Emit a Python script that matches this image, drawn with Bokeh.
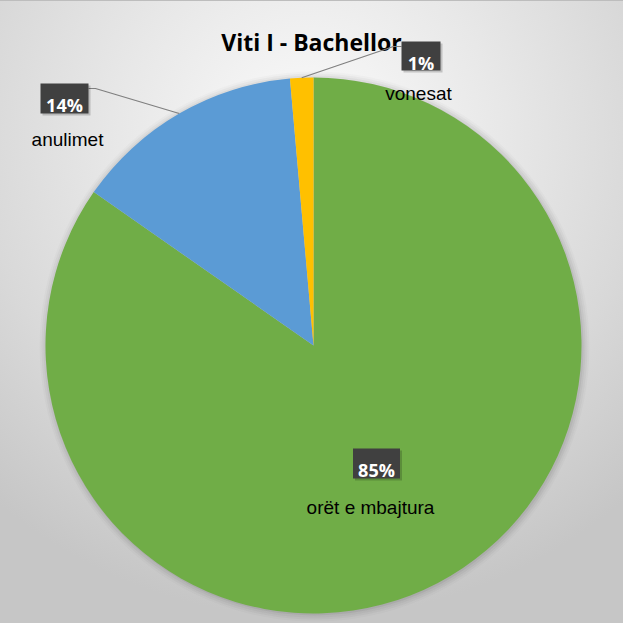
import numpy as np
from bokeh.plotting import figure
from bokeh.models import ColumnDataSource, Range1d
from bokeh.core.properties import value
from bokeh.embed import file_html
from bokeh.resources import INLINE

# ---- data ----
title_text = "Viti I - Bachellor"
categories = ["orët e mbajtura", "anulimet", "vonesat"]
values = [84.7, 13.9, 1.4]
pct_labels = ["85%", "14%", "1%"]
colors = ["#70AD47", "#5B9BD5", "#FFC000"]

# ---- geometry (1 data unit = 1 screen px, pie centre at 0,0) ----
R = 268
W, H = 628, 623
x0, y0 = -317, -279

frac = np.array(values) / sum(values)
ends = np.pi / 2 - 2 * np.pi * np.cumsum(frac)
starts = np.concatenate([[np.pi / 2], ends[:-1]])
mids = (starts + ends) / 2

p = figure(width=W, height=H, output_backend="svg", toolbar_location=None,
           x_range=Range1d(x0, x0 + W), y_range=Range1d(y0, y0 + H),
           min_border=0, outline_line_color=None)
p.axis.visible = False
p.grid.visible = False
p.background_fill_alpha = 0
p.border_fill_alpha = 0
p.styles = {
    "margin-left": "-5px",
    "background": "radial-gradient(circle at 50% 22%, #fbfbfb 0px, #e8e8e8 190px, #d9d9d9 330px, #c6c6c6 480px)",
    "border-left": "1px solid #bdbdbd",
    "border-top": "1px solid #bdbdbd",
}

# soft shadow around pie
for i, a in enumerate([0.05, 0.04, 0.03, 0.02]):
    p.circle(x=[1], y=[-1], radius=R + 1 + 2 * i, fill_color="black",
             fill_alpha=a, line_color=None)

src = ColumnDataSource(dict(start=starts, end=ends, color=colors, cat=categories))
p.wedge(x=0, y=0, radius=R, start_angle="start", end_angle="end",
        direction="clock", fill_color="color", line_color=None, source=src)

# title
p.text(x=[-2], y=[304], text=[title_text], text_font=value("Open Sans"),
       text_font_style="bold", text_font_size="23px", text_color="#000000",
       text_align="center", text_baseline="alphabetic")

# label layout (box centre, box size, pct baseline, category baseline)
layout = [
    dict(bx=63, by=-118, bw=47, bh=30, pb=-124, cx=57, cb=-162),
    dict(bx=-249, by=247, bw=48, bh=30, pb=241, cx=-246, cb=206),
    dict(bx=107.5, by=289.5, bw=39, bh=29, pb=283, cx=105, cb=252),
]

# leader lines for small slices
for i in (1, 2):
    L = layout[i]
    ax, ay = R * np.cos(mids[i]), R * np.sin(mids[i])
    if L["bx"] < 0:
        ex = L["bx"] + L["bw"] / 2
        elbow = ex + 7
    else:
        ex = L["bx"] - L["bw"] / 2
        elbow = ex - 8
    ey = L["by"] + L["bh"] / 2 - 5
    p.line(x=[ex, elbow, ax], y=[ey, ey, ay], line_color="#7f7f7f", line_width=1.2)

for i, L in enumerate(layout):
    # box shadow
    p.rect(x=L["bx"] + 2, y=L["by"] - 2, width=L["bw"], height=L["bh"],
           fill_color="black", fill_alpha=0.18, line_color=None)
    p.rect(x=L["bx"], y=L["by"], width=L["bw"], height=L["bh"],
           fill_color="#404040", line_color=None)
    p.text(x=[L["bx"]], y=[L["pb"]], text=[pct_labels[i]], text_font=value("Open Sans"),
           text_font_style="bold", text_font_size="18px", text_color="white",
           text_align="center", text_baseline="alphabetic")
    p.text(x=[L["cx"]], y=[L["cb"]], text=[categories[i]],
           text_font=value("Liberation Sans"), text_font_size="19px",
           text_color="#000000", text_align="center", text_baseline="alphabetic")

open("out.html", "w").write(file_html(p, INLINE))
